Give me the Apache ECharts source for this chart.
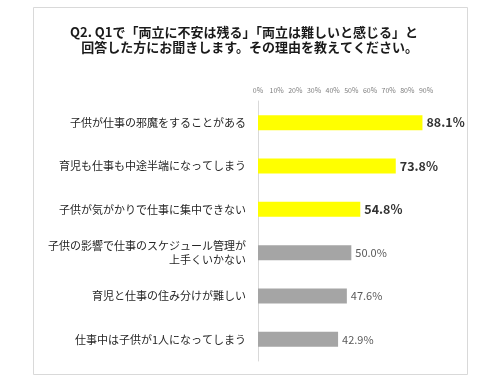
<!DOCTYPE html>
<html><head><meta charset="utf-8">
<script src="https://cdn.jsdelivr.net/npm/echarts@6/dist/echarts.min.js"></script>
<style>html,body{margin:0;padding:0;background:#fff}#c{width:500px;height:381px}</style>
</head><body><div id="c"></div>
<script>
const titleLines = ['Q2. Q1で「両立に不安は残る」「両立は難しいと感じる」と', '回答した方にお聞きします。その理由を教えてください。'];
const categories = [
  '子供が仕事の邪魔をすることがある',
  '育児も仕事も中途半端になってしまう',
  '子供が気がかりで仕事に集中できない',
  '子供の影響で仕事のスケジュール管理が\n上手くいかない',
  '育児と仕事の住み分けが難しい',
  '仕事中は子供が1人になってしまう'
];
const values = [88.1, 73.8, 54.8, 50.0, 47.6, 42.9];
const highlighted = [true, true, true, false, false, false];

const font = '"Noto Sans CJK JP", "Noto Sans", sans-serif';
const chart = echarts.init(document.getElementById('c'), null, {renderer: 'canvas'});
chart.setOption({
  animation: false,
  backgroundColor: '#fff',
  textStyle: {fontFamily: font},
  graphic: [
    {type: 'rect', shape: {x: 33.5, y: 7.5, width: 434, height: 367}, style: {fill: 'none', stroke: '#d9d9d9', lineWidth: 1}},
    {type: 'text', x: 418, y: 25, style: {text: titleLines.join('\n'), align: 'right', font: 'bold 13px ' + font, fill: '#1a1a1a', lineHeight: 15}}
  ],
  grid: {left: 258, top: 101, width: 168, height: 260, containLabel: false},
  xAxis: {
    type: 'value', position: 'top', min: 0, max: 90, interval: 10,
    axisLine: {show: false}, axisTick: {show: false}, splitLine: {show: false},
    axisLabel: {formatter: '{value}%', fontSize: 7, color: '#7f7f7f', margin: 7}
  },
  yAxis: {
    type: 'category', inverse: true, data: categories,
    axisLine: {show: true, lineStyle: {color: '#d9d9d9'}}, axisTick: {show: false},
    axisLabel: {fontSize: 11, color: '#262626', margin: 12, lineHeight: 14, align: 'right'}
  },
  series: [{
    type: 'bar', barWidth: 15,
    data: values.map((v, i) => ({
      value: v,
      itemStyle: {color: highlighted[i] ? '#ffff00' : '#a5a5a5'},
      label: highlighted[i]
        ? {fontWeight: 'bold', fontSize: 12.5, color: '#333'}
        : {fontWeight: 'normal', fontSize: 11, color: '#595959'}
    })),
    label: {show: true, position: 'right', distance: 4, formatter: p => p.value.toFixed(1) + '%'}
  }]
});
</script></body></html>
